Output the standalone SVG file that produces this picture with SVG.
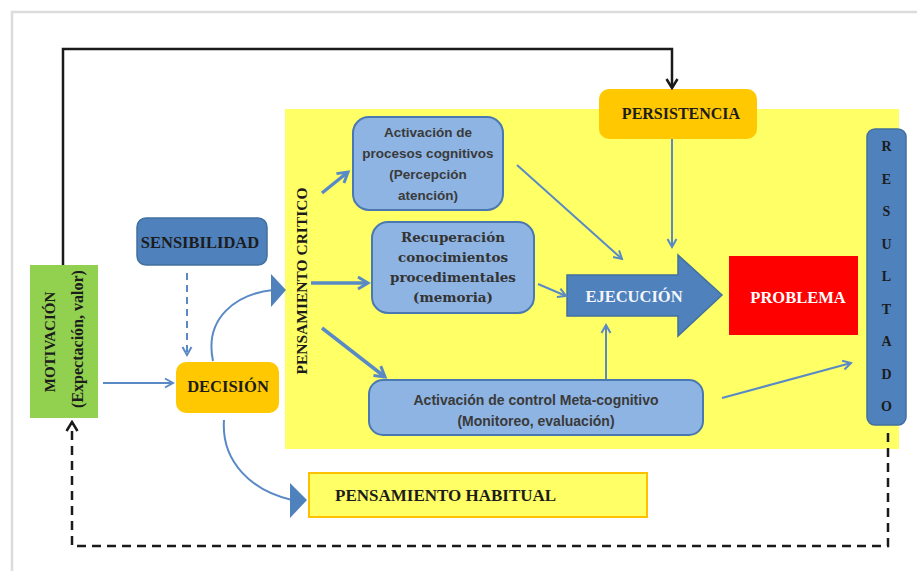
<svg xmlns="http://www.w3.org/2000/svg" width="917" height="571" viewBox="0 0 917 571">
<defs>
<style>
.serif{font-family:"Liberation Serif","Times New Roman",serif;font-weight:bold;fill:#1c1c1c;}
.dserif{font-family:"DejaVu Serif",serif;font-weight:bold;fill:#333;}
.sans{font-family:"Liberation Sans",Arial,sans-serif;font-weight:bold;fill:#3a3a3a;font-size:13.5px;}
.lbox{fill:#8EB4E3;stroke:#4A78B2;stroke-width:2;}
.blue{fill:#4F81BD;stroke:#41709F;stroke-width:1.5;}
.ora{fill:#FFC800;}
.conn{fill:none;stroke:#5A8AC6;stroke-width:2;}
.thick{fill:none;stroke:#5A8AC6;stroke-width:3.5;}
.blk{fill:none;stroke:#1a1a1a;stroke-width:2.5;}
.tri{fill:#4F81BD;}
</style>
<marker id="chev" viewBox="0 0 12 12" refX="10" refY="6" markerWidth="12" markerHeight="12" markerUnits="userSpaceOnUse" orient="auto">
<path d="M2,1.5 L10,6 L2,10.5" fill="none" stroke="#5A8AC6" stroke-width="2"/>
</marker>
<marker id="chevL" viewBox="0 0 16 16" refX="13" refY="8" markerWidth="16" markerHeight="16" markerUnits="userSpaceOnUse" orient="auto">
<path d="M3,2 L13,8 L3,14" fill="none" stroke="#5A8AC6" stroke-width="3"/>
</marker>
<marker id="chevK" viewBox="0 0 14 14" refX="12" refY="7" markerWidth="14" markerHeight="14" markerUnits="userSpaceOnUse" orient="auto">
<path d="M3,1.5 L12,7 L3,12.5" fill="none" stroke="#1a1a1a" stroke-width="2.5"/>
</marker>
</defs>
<rect x="0" y="0" width="917" height="571" fill="#ffffff"/>
<rect x="12" y="12" width="930" height="590" fill="none" stroke="#dcdcdc" stroke-width="2.5"/>

<g id="zona-critica">
<rect x="285" y="109" width="614" height="340" fill="#FFFF66"/>
<text class="serif" font-size="15.5" text-anchor="middle" dominant-baseline="central" transform="translate(301,281) rotate(-90)">PENSAMIENTO CRITICO</text>
</g>

<g id="motivacion">
<rect x="30" y="265" width="68" height="153" fill="#92D050"/>
<text class="serif" font-size="15" text-anchor="middle" dominant-baseline="central" transform="translate(50,342) rotate(-90)">MOTIVACIÓN</text>
<text class="serif" font-size="16" text-anchor="middle" dominant-baseline="central" transform="translate(77,339) rotate(-90)">(Expectación, valor)</text>
</g>

<g id="sensibilidad">
<rect x="137" y="218" width="130" height="47" rx="9" class="blue"/>
<text class="serif" font-size="16.5" x="200" y="242" text-anchor="middle" dominant-baseline="central">SENSIBILIDAD</text>
</g>

<g id="decision">
<rect x="176" y="362" width="103" height="51" rx="10" class="ora"/>
<text class="serif" font-size="16.5" x="228" y="386" text-anchor="middle" dominant-baseline="central">DECISIÓN</text>
</g>

<g id="persistencia">
<rect x="599" y="89" width="158" height="50" rx="10" class="ora"/>
<text class="serif" font-size="16" x="681" y="113" text-anchor="middle" dominant-baseline="central">PERSISTENCIA</text>
</g>

<g id="activacion-procesos">
<rect x="353" y="117" width="150" height="93" rx="16" class="lbox"/>
<text class="sans" text-anchor="middle" dominant-baseline="central"><tspan x="428" y="132">Activación de</tspan><tspan x="428" y="153">procesos cognitivos</tspan><tspan x="428" y="174">(Percepción</tspan><tspan x="428" y="195">atención)</tspan></text>
</g>

<g id="recuperacion">
<rect x="372" y="222" width="162" height="91" rx="16" class="lbox"/>
<text class="dserif" font-size="13.5" text-anchor="middle" dominant-baseline="central"><tspan x="453" y="237">Recuperación</tspan><tspan x="453" y="257">conocimientos</tspan><tspan x="453" y="277">procedimentales</tspan><tspan x="453" y="297">(memoria)</tspan></text>
</g>

<g id="control-metacognitivo">
<rect x="369" y="380" width="334" height="55" rx="14" class="lbox"/>
<text class="sans" style="font-size:14px" text-anchor="middle" dominant-baseline="central"><tspan x="536" y="400">Activación de control Meta-cognitivo</tspan><tspan x="536" y="421">(Monitoreo, evaluación)</tspan></text>
</g>

<g id="ejecucion">
<path d="M567,275 L678,275 L678,255 L722,295 L678,336 L678,316 L567,316 Z" class="blue"/>
<text class="serif" font-size="16.5" x="634" y="296" text-anchor="middle" dominant-baseline="central" style="fill:#f4f6fa">EJECUCIÓN</text>
</g>

<g id="problema">
<rect x="729" y="256" width="129" height="79" fill="#FF0000"/>
<text class="serif" font-size="16.5" x="798" y="297" text-anchor="middle" dominant-baseline="central" style="fill:#ffffff">PROBLEMA</text>
</g>

<g id="resultado">
<rect x="867" y="129" width="39" height="296" rx="8" class="blue"/>
<text class="serif" font-size="14" text-anchor="middle" dominant-baseline="central"><tspan x="886.5" y="146">R</tspan><tspan x="886.5" y="178.5">E</tspan><tspan x="886.5" y="211">S</tspan><tspan x="886.5" y="243.5">U</tspan><tspan x="886.5" y="276">L</tspan><tspan x="886.5" y="308.5">T</tspan><tspan x="886.5" y="341">A</tspan><tspan x="886.5" y="373.5">D</tspan><tspan x="886.5" y="406">O</tspan></text>
</g>

<g id="pensamiento-habitual">
<rect x="309" y="473" width="338" height="44" fill="#FFFF66" stroke="#FFC000" stroke-width="2"/>
<text class="serif" font-size="17" x="335" y="495" dominant-baseline="central">PENSAMIENTO HABITUAL</text>
</g>

<g id="connectors">
<path class="blk" d="M63,265 L63,49 L672,49 L672,88" marker-end="url(#chevK)"/>
<path class="blk" d="M888,433 L888,546 L72,546 L72,422" stroke-dasharray="9,6" marker-end="url(#chevK)"/>
<path class="conn" d="M103,383 L173,383" marker-end="url(#chev)"/>
<path class="conn" d="M187,273 L187,355" stroke-dasharray="7,5" marker-end="url(#chev)"/>
<path class="conn" d="M213,361 C204,318 236,294 273,290"/>
<path class="tri" d="M271,274 L286,290 L271,307 Z"/>
<path class="conn" d="M224,420 C221,462 252,491 292,500"/>
<path class="tri" d="M290,483 L307,500 L290,518 Z"/>
<path class="thick" d="M322,193 L348,172" marker-end="url(#chevL)"/>
<path class="thick" d="M311,283 L368,283" marker-end="url(#chevL)"/>
<path class="thick" d="M322,328 L385,377" marker-end="url(#chevL)"/>
<path class="conn" d="M517,165 L622,259" marker-end="url(#chev)"/>
<path class="conn" d="M672,139 L672,247" marker-end="url(#chev)"/>
<path class="conn" d="M538,284 L566,296" marker-end="url(#chev)"/>
<path class="conn" d="M606,379 L606,325" marker-end="url(#chev)"/>
<path class="conn" d="M722,398 L851,363" marker-end="url(#chev)"/>
</g>
</svg>
